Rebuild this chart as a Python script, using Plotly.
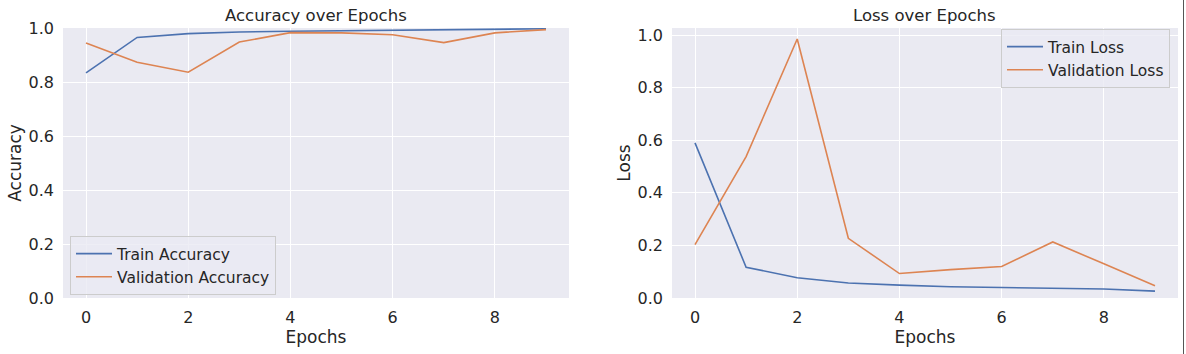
import plotly.graph_objects as go

epochs = list(range(10))
train_acc = [0.834, 0.965, 0.979, 0.985, 0.988, 0.990, 0.992, 0.994, 0.995, 0.997]
val_acc = [0.944, 0.873, 0.836, 0.948, 0.983, 0.982, 0.975, 0.946, 0.982, 0.994]
train_loss = [0.590, 0.117, 0.077, 0.057, 0.049, 0.043, 0.040, 0.036, 0.034, 0.026]
val_loss = [0.203, 0.538, 0.985, 0.227, 0.093, 0.108, 0.120, 0.213, 0.130, 0.047]

acc_ticks = [0.0, 0.2, 0.4, 0.6, 0.8, 1.0]
x_ticks = [0, 2, 4, 6, 8]

BLUE = "#4C72B0"
ORANGE = "#DD8452"
TXT = "#262626"
FONT = "DejaVu Sans"
W, H = 1186, 354

def px_x(p):
    return p / W

def px_y(p):
    return 1 - p / H

fig = go.Figure()
fig.add_trace(go.Scatter(x=epochs, y=train_acc, mode="lines", name="Train Accuracy",
                         line=dict(color=BLUE, width=1.6), xaxis="x", yaxis="y", legend="legend"))
fig.add_trace(go.Scatter(x=epochs, y=val_acc, mode="lines", name="Validation Accuracy",
                         line=dict(color=ORANGE, width=1.6), xaxis="x", yaxis="y", legend="legend"))
fig.add_trace(go.Scatter(x=epochs, y=train_loss, mode="lines", name="Train Loss",
                         line=dict(color=BLUE, width=1.6), xaxis="x2", yaxis="y2", legend="legend2"))
fig.add_trace(go.Scatter(x=epochs, y=val_loss, mode="lines", name="Validation Loss",
                         line=dict(color=ORANGE, width=1.6), xaxis="x2", yaxis="y2", legend="legend2"))

ydom = [px_y(298), px_y(28)]
axcommon = dict(showgrid=True, gridcolor="white", gridwidth=1.3, zeroline=False,
                showline=False, ticks="", tickfont=dict(family=FONT, size=16, color=TXT),
                ticklabelstandoff=8, automargin=False)

fig.update_layout(
    width=W, height=H,
    margin=dict(l=0, r=0, t=0, b=0, autoexpand=False),
    paper_bgcolor="white",
    plot_bgcolor="#EAEAF2",
    font=dict(family=FONT, color=TXT),
    xaxis=dict(domain=[px_x(63), px_x(569)], range=[-0.45, 9.45], tickvals=x_ticks,
               title=dict(text="Epochs", font=dict(size=17, family=FONT, color=TXT), standoff=5),
               **axcommon),
    yaxis=dict(domain=ydom, range=[0, 1.0], tickvals=acc_ticks, tickformat=".1f",
               title=dict(text="Accuracy", font=dict(size=17, family=FONT, color=TXT), standoff=2),
               **axcommon),
    xaxis2=dict(domain=[px_x(672), px_x(1178)], range=[-0.45, 9.45], tickvals=x_ticks,
                anchor="y2",
                title=dict(text="Epochs", font=dict(size=17, family=FONT, color=TXT), standoff=5),
                **axcommon),
    yaxis2=dict(domain=ydom, range=[0, 1.027], tickvals=acc_ticks, tickformat=".1f",
                anchor="x2",
                title=dict(text="Loss", font=dict(size=17, family=FONT, color=TXT), standoff=2),
                **axcommon),
    legend=dict(x=px_x(70), y=px_y(236), xanchor="left", yanchor="top",
                bgcolor="rgba(234,234,242,0.8)", bordercolor="#CCCCCC", borderwidth=1,
                font=dict(family=FONT, size=15.5, color=TXT), itemwidth=36, tracegroupgap=0),
    legend2=dict(x=px_x(1170), y=px_y(29), xanchor="right", yanchor="top",
                 bgcolor="rgba(234,234,242,0.8)", bordercolor="#CCCCCC", borderwidth=1,
                 font=dict(family=FONT, size=15.5, color=TXT), itemwidth=36, tracegroupgap=0),
    annotations=[
        dict(text="Accuracy over Epochs", x=px_x(316), y=px_y(15), xref="paper", yref="paper",
             xanchor="center", yanchor="middle",
             showarrow=False, font=dict(family=FONT, size=16.5, color=TXT)),
        dict(text="Loss over Epochs", x=px_x(924), y=px_y(15), xref="paper", yref="paper",
             xanchor="center", yanchor="middle",
             showarrow=False, font=dict(family=FONT, size=16.5, color=TXT)),
    ],
    shapes=[dict(type="line", xref="paper", yref="paper", x0=px_x(1183.5), x1=px_x(1183.5),
                 y0=0, y1=1, line=dict(color="#555555", width=1))],
)

fig.write_html("out.html")
